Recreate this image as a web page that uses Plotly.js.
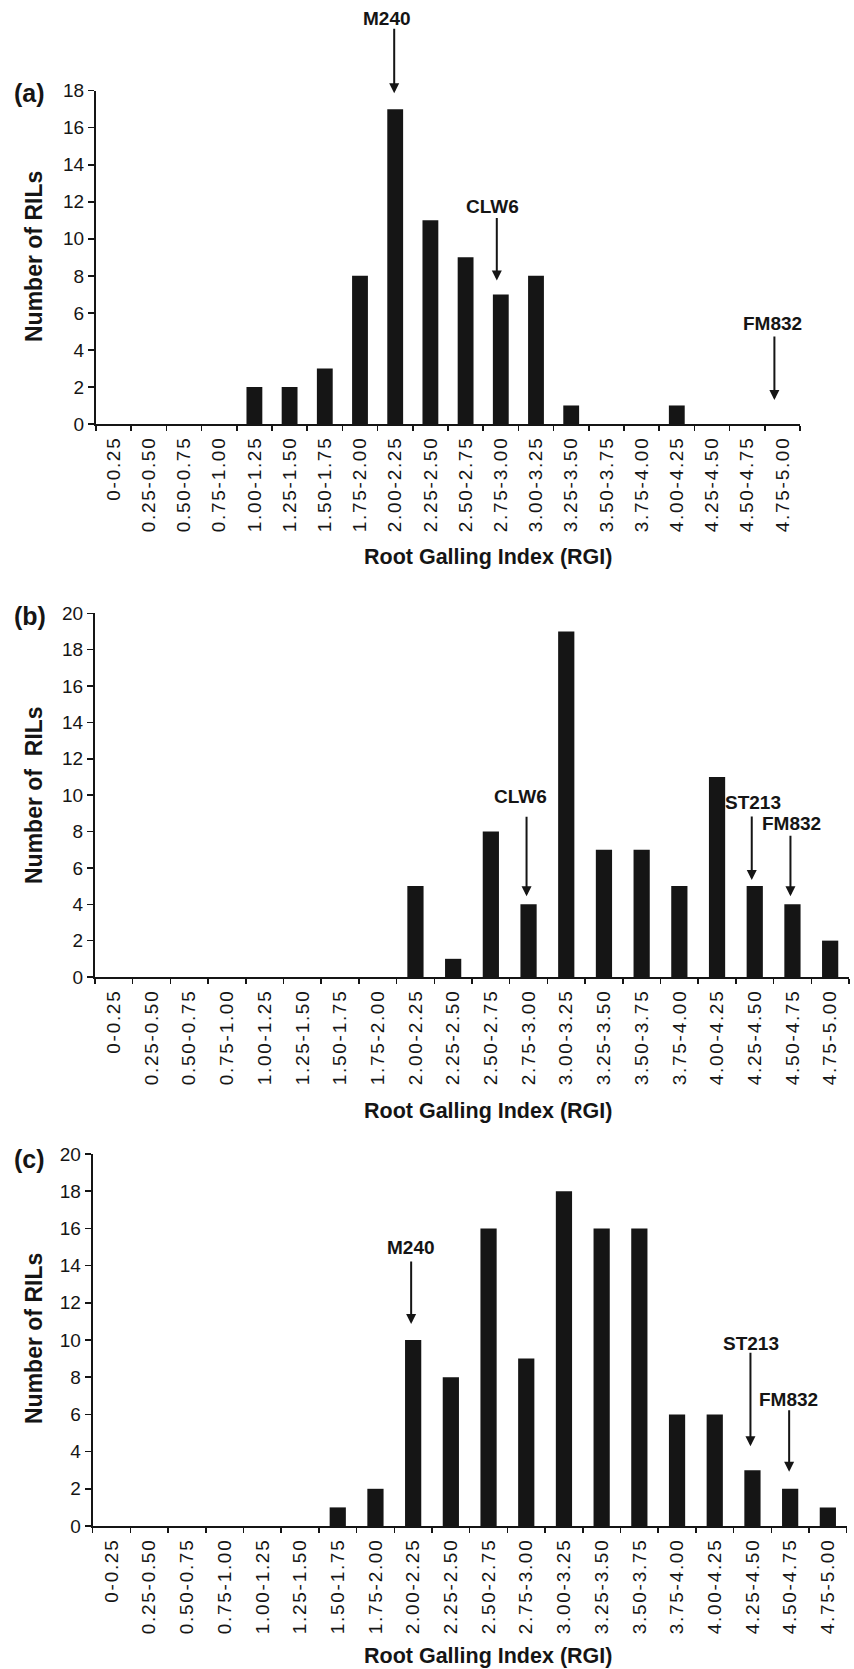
<!DOCTYPE html>
<html>
<head>
<meta charset="utf-8">
<script src="https://cdn.plot.ly/plotly-3.0.1.min.js"></script>
<style>
  html, body { margin: 0; padding: 0; background: #fff; }
  #chart { width: 854px; height: 1669px; }
  .xtick text, .x2tick text, .x3tick text { letter-spacing: 1.7px; }
</style>
</head>
<body>
<div id="chart"></div>
<script>
// ---------------- DATA ----------------
const categories = ['0-0.25','0.25-0.50','0.50-0.75','0.75-1.00','1.00-1.25','1.25-1.50',
  '1.50-1.75','1.75-2.00','2.00-2.25','2.25-2.50','2.50-2.75','2.75-3.00','3.00-3.25',
  '3.25-3.50','3.50-3.75','3.75-4.00','4.00-4.25','4.25-4.50','4.50-4.75','4.75-5.00'];

const countsA = [0,0,0,0,2,2,3,8,17,11,9,7,8,1,0,0,1,0,0,0];
const countsB = [0,0,0,0,0,0,0,0,5,1,8,4,19,7,7,5,11,5,4,2];
const countsC = [0,0,0,0,0,0,1,2,10,8,16,9,18,16,16,6,6,3,2,1];

const panelLabels = ['(a)', '(b)', '(c)'];
const yTitles = ['Number of RILs', 'Number of\u00a0 RILs', 'Number of RILs'];
const xTitle = 'Root Galling Index (RGI)';

// parental lines marked with arrows
const markerNamesA = ['M240', 'CLW6', 'FM832'];
const markerCatsA  = ['2.00-2.25', '2.75-3.00', '4.75-5.00'];
const markerNamesB = ['CLW6', 'ST213', 'FM832'];
const markerCatsB  = ['2.75-3.00', '4.25-4.50', '4.50-4.75'];
const markerNamesC = ['M240', 'ST213', 'FM832'];
const markerCatsC  = ['2.00-2.25', '4.25-4.50', '4.50-4.75'];

// ---------------- LAYOUT HELPERS (pixel geometry) ----------------
const W = 854, H = 1669;
const px = v => v / W;
const py = v => 1 - v / H;

const panels = [
  { counts: countsA, yMax: 18, xL: 96, xR: 800, yTop: 90.7, yBot: 424, barW: 0.45,
    names: markerNamesA, cats: markerCatsA,
    // per arrow: [gap above bar px, arrow length px, arrow x shift, text x shift, text gap]
    arrows: [[16, 66, -1, -7, 9], [14, 64, -4, -4, 10], [24, 65, -8, -2, 12]],
    labelY: 93.5, yTitleY: 257, xTitleY: 557 },
  { counts: countsB, yMax: 20, xL: 95, xR: 849, yTop: 613.3, yBot: 977, barW: 0.43,
    names: markerNamesB, cats: markerCatsB,
    arrows: [[8, 81, -2, -6, 19], [6, 65, -3, 1, 13], [8, 62, -2, 1, 11]],
    labelY: 616, yTitleY: 795, xTitleY: 1111 },
  { counts: countsC, yMax: 20, xL: 92.7, xR: 846.7, yTop: 1154, yBot: 1526, barW: 0.43,
    names: markerNamesC, cats: markerCatsC,
    arrows: [[16, 64, -2, 0, 13], [24, 95, -2, 1, 8], [17, 63, -1, -1, 9]],
    labelY: 1159, yTitleY: 1339, xTitleY: 1656 }
];

const INK = '#151515';
const SANS = 'Arial, "Liberation Sans", sans-serif';
const data = [];
const layout = {
  width: W, height: H,
  margin: { l: 0, r: 0, t: 0, b: 0 },
  paper_bgcolor: '#ffffff', plot_bgcolor: '#ffffff',
  showlegend: false,
  font: { family: SANS, color: INK },
  annotations: []
};

panels.forEach((p, i) => {
  const n = i === 0 ? '' : String(i + 1);
  const xa = 'x' + n, ya = 'y' + n;
  data.push({
    type: 'bar', x: categories, y: p.counts, xaxis: xa, yaxis: ya,
    width: p.barW, marker: { color: INK, line: { width: 0 } },
    hoverinfo: 'x+y'
  });
  layout['xaxis' + n] = {
    domain: [px(p.xL), px(p.xR)], anchor: ya, type: 'category',
    categoryorder: 'array', categoryarray: categories,
    range: [-0.5, categories.length - 0.5],
    showline: true, linecolor: INK, linewidth: 2,
    ticks: 'outside', tickson: 'boundaries', ticklen: 5, tickwidth: 1.5, tickcolor: INK,
    tickangle: -90, ticklabelstandoff: 3,
    tickfont: { family: SANS, size: 19, color: INK },
    showgrid: false, zeroline: false, fixedrange: true
  };
  layout['yaxis' + n] = {
    domain: [py(p.yBot), py(p.yTop)], anchor: xa,
    range: [0, p.yMax], tick0: 0, dtick: 2,
    showline: true, linecolor: INK, linewidth: 2,
    ticks: 'outside', ticklen: 6, tickwidth: 1.5, tickcolor: INK,
    tickfont: { family: SANS, size: 19, color: INK },
    showgrid: false, zeroline: false, fixedrange: true
  };

  // panel label
  layout.annotations.push({
    xref: 'paper', yref: 'paper', x: px(29.7), y: py(p.labelY),
    xanchor: 'center', yanchor: 'middle', showarrow: false,
    text: '<b>' + panelLabels[i] + '</b>',
    font: { family: SANS, size: 25, color: INK }
  });
  // y title
  layout.annotations.push({
    xref: 'paper', yref: 'paper', x: px(34), y: py(p.yTitleY),
    xanchor: 'center', yanchor: 'middle', showarrow: false, textangle: -90,
    text: '<b>' + yTitles[i] + '</b>',
    font: { family: SANS, size: 23, color: INK }
  });
  // x title
  layout.annotations.push({
    xref: 'paper', yref: 'paper', x: px(488), y: py(p.xTitleY),
    xanchor: 'center', yanchor: 'middle', showarrow: false,
    text: '<b>' + xTitle + '</b>',
    font: { family: SANS, size: 21.5, color: INK }
  });

  // arrows + labels for parental lines
  p.names.forEach((name, k) => {
    const cat = p.cats[k];
    const val = p.counts[categories.indexOf(cat)];
    const [gap, len, dx, tdx, tgap] = p.arrows[k];
    layout.annotations.push({
      xref: xa, yref: ya, x: cat, y: val, xshift: dx, yshift: gap,
      text: '', showarrow: true, ax: 0, ay: -len,
      arrowhead: 2, arrowsize: 1, arrowwidth: 2, arrowcolor: INK, standoff: 0
    });
    layout.annotations.push({
      xref: xa, yref: ya, x: cat, y: val, xshift: dx + tdx, yshift: gap + len + tgap,
      xanchor: 'center', yanchor: 'middle', showarrow: false,
      text: '<b>' + name + '</b>',
      font: { family: SANS, size: 19, color: INK }
    });
  });
});

Plotly.newPlot('chart', data, layout, { staticPlot: true, displayModeBar: false });
</script>
</body>
</html>
